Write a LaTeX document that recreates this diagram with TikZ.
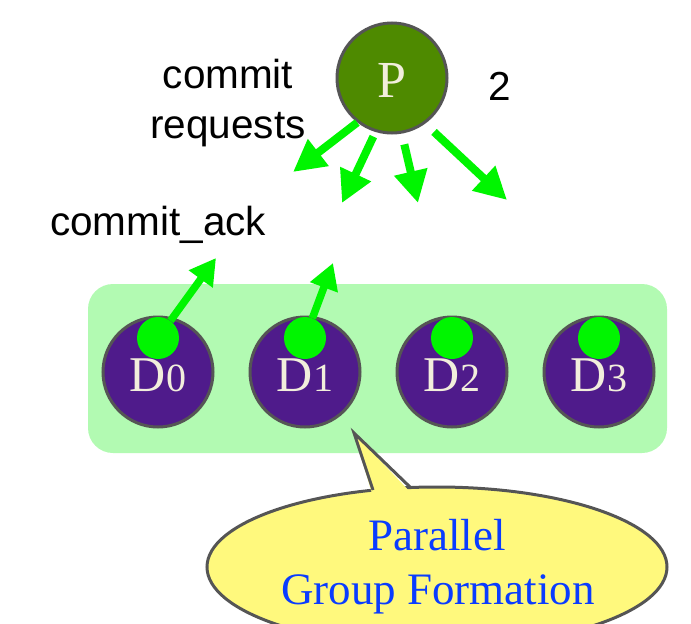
\documentclass[tikz,border=0pt]{standalone}
\usepackage{fontspec}
\setmainfont{Liberation Serif}
\newfontfamily\hv{Liberation Sans}
\usetikzlibrary{arrows.meta,shapes.geometric,calc}
\definecolor{procgreen}{HTML}{4E8A00}
\definecolor{rim}{HTML}{555555}
\definecolor{dpurple}{HTML}{4F1B8B}
\definecolor{ackgreen}{HTML}{00F500}
\definecolor{groupbg}{HTML}{B2FAB2}
\definecolor{bubblefill}{HTML}{FFF97D}
\definecolor{cream}{HTML}{F2EEDC}
\definecolor{noteblue}{HTML}{0A3CFF}
\tikzset{
  proc/.style={circle, draw=rim, line width=3pt, inner sep=0pt, minimum size=110pt},
  token/.style={circle, fill=ackgreen, inner sep=0pt, minimum size=42pt},
  msg/.style={draw=ackgreen, line width=8pt, -{Triangle[length=32pt,width=32pt]}},
  ack/.style={draw=ackgreen, line width=7.5pt, -{Triangle[length=26pt,width=28pt]}},
  lbl/.style={font=\hv\fontsize{40.5}{48}\selectfont, inner sep=0pt, anchor=base},
  inname/.style={text=cream, inner sep=0pt, anchor=base},
  note/.style={text=noteblue, font=\fontsize{45}{50}\selectfont, inner sep=0pt, anchor=base},
}
\begin{document}
\begin{tikzpicture}[x=1pt,y=-1pt]
\useasboundingbox (0,0) rectangle (691,624);
\clip (0,0) rectangle (691,624);

% group of data nodes
\fill[groupbg, rounded corners=25pt] (88,284) rectangle (667,453);
\foreach \i/\x in {0/158,1/305,2/452,3/599}{
  \node[proc, fill=dpurple] (d\i) at (\x,372) {};
  \node[inname] (dl\i) at ($(d\i)+(0,19)$)
    {\fontsize{50}{56}\selectfont D\fontsize{40}{48}\selectfont\i};
  \node[token] (g\i) at (\x,338) {};
}

% coordinator
\node[proc, fill=procgreen] (P) at (392,78) {};
\node[inname, font=\fontsize{52}{56}\selectfont] (Pl) at ($(P)+(0,19)$) {P};

% labels
\node[lbl] (req1) at (228,88) {commit};
\node[lbl] (req2) at (228,138) {requests};
\node[lbl, anchor=base west] (acklbl) at (50,235) {commit\_ack};
\node[lbl] (round) at (500,100) {2};

% commit requests
\coordinate (t1) at (293,172);
\coordinate (t2) at (342,203);
\coordinate (t3) at (418,203);
\coordinate (t4) at (507,200);
\draw[msg] (P.-128) -- (t1);
\draw[msg, shorten <=5pt] (P.-107) -- (t2);
\draw[msg, shorten <=11pt] (P.-80) -- (t3);
\draw[msg, shorten <=12pt] (P.-54) -- (t4);

% acknowledgements
\coordinate (a0) at (216,258);
\coordinate (a1) at (333,263);
\draw[ack] (g0) -- (a0);
\draw[ack] (g1) -- (a1);

% callout
\node[ellipse, draw=rim, fill=bubblefill, line width=3pt, minimum width=460pt,
      minimum height=160pt, inner sep=0pt] (bubble) at (437,567) {};
\coordinate (ptip) at (354,433);
\coordinate (pb1) at (373,490);
\coordinate (pb2) at (410,487);
\fill[bubblefill] (ptip) -- ($(pb1)+(0,7)$) -- ($(pb2)+(2,7)$) -- cycle;
\draw[rim, line width=3pt, line join=miter] (pb1) -- (ptip) -- (pb2);
\node[note] (n1) at (437,550) {Parallel};
\node[note] (n2) at (438,604) {Group Formation};
\end{tikzpicture}
\end{document}
